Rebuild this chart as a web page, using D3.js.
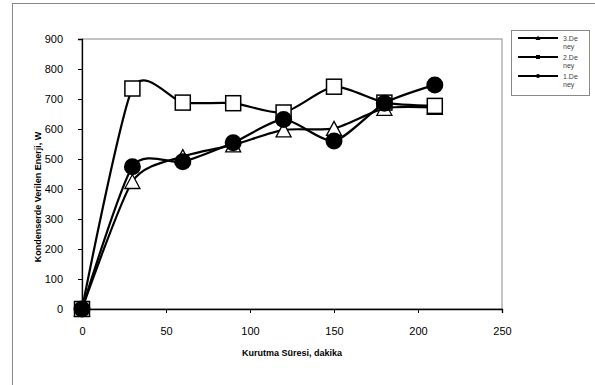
<!DOCTYPE html>
<html><head><meta charset="utf-8">
<script src="https://cdn.jsdelivr.net/npm/d3@7"></script>
<style>body{margin:0;background:#fff;}svg{display:block;font-family:"Liberation Sans",Arial,sans-serif;}</style>
</head><body>
<svg id="c" width="595" height="385"></svg>
<script>
const times = [0, 30, 60, 90, 120, 150, 180, 210];
const deney3 = [0, 425, 508, 547, 597, 602, 669, 672];   // triangles
const deney2 = [0, 735, 688, 686, 655, 741, 688, 677];   // squares
const deney1 = [0, 474, 491, 554, 632, 560, 686, 747];   // circles
const yTicks = [0, 100, 200, 300, 400, 500, 600, 700, 800, 900];
const xTicks = [0, 50, 100, 150, 200, 250];
const legendLabels = ["3.De", "2.De", "1.De"];

const svg = d3.select("#c");
// outer frame
svg.append("rect").attr("x", 12.5).attr("y", 3.5).attr("width", 600).attr("height", 400)
  .attr("fill", "none").attr("stroke", "#888").attr("stroke-width", 1);

const L = 82, R = 502, T = 39, B = 309;
const x = d3.scaleLinear().domain([0, 250]).range([L, R]);
const y = d3.scaleLinear().domain([0, 900]).range([B, T]);

// plot area border (grey)
svg.append("rect").attr("x", L).attr("y", T).attr("width", R - L).attr("height", B - T)
  .attr("fill", "none").attr("stroke", "#888").attr("stroke-width", 1);

const xAxis = svg.append("g").attr("transform", `translate(0,${B})`)
  .call(d3.axisBottom(x).tickValues(xTicks).tickSize(4).tickPadding(14));
const yAxis = svg.append("g").attr("transform", `translate(${L},0)`)
  .call(d3.axisLeft(y).tickValues(yTicks).tickSize(4).tickPadding(15));
[xAxis, yAxis].forEach(a => {
  a.select(".domain").attr("stroke", "#000").attr("stroke-width", 1.3);
  a.selectAll(".tick line").attr("stroke", "#000");
  a.selectAll(".tick text").attr("font-size", 11).attr("fill", "#000")
    .attr("font-family", "Liberation Sans, Arial, sans-serif");
});

svg.append("text").attr("x", 292).attr("y", 356).attr("text-anchor", "middle")
  .attr("font-size", 9).attr("font-weight", "bold").text("Kurutma Süresi, dakika");
svg.append("text").attr("transform", "translate(41,197) rotate(-90)").attr("text-anchor", "middle")
  .attr("font-size", 9).attr("font-weight", "bold").text("Kondenserde Verilen Enerji, W");

const line = d3.line().x(d => x(d[0])).y(d => y(d[1])).curve(d3.curveCardinal.tension(0.3));
const series = [
  {vals: deney3, shape: "tri"},
  {vals: deney2, shape: "sq"},
  {vals: deney1, shape: "circ"}
];
function marker(g, shape, cx, cy, s) {
  if (shape === "sq") {
    g.append("rect").attr("x", cx - s / 2).attr("y", cy - s / 2).attr("width", s).attr("height", s)
      .attr("fill", "#fff").attr("stroke", "#000").attr("stroke-width", 1.5);
  } else if (shape === "circ") {
    g.append("circle").attr("cx", cx).attr("cy", cy).attr("r", s / 2).attr("fill", "#000");
  } else {
    const h = s * 0.93;
    g.append("path").attr("d", `M${cx},${cy - h / 2}L${cx + s / 2},${cy + h / 2}L${cx - s / 2},${cy + h / 2}Z`)
      .attr("fill", "#fff").attr("stroke", "#000").attr("stroke-width", 1.3);
  }
}
series.forEach(s => {
  const g = svg.append("g");
  const pts = times.map((t, i) => [t, s.vals[i]]);
  g.append("path").attr("d", line(pts)).attr("fill", "none").attr("stroke", "#000").attr("stroke-width", 2.2);
  pts.forEach(p => marker(g, s.shape, x(p[0]), y(p[1]), s.shape === "circ" ? 17 : 15));
});

// legend
const lg = svg.append("g");
lg.append("rect").attr("x", 511.5).attr("y", 30.5).attr("width", 78).attr("height", 65)
  .attr("fill", "#fff").attr("stroke", "#888");
legendLabels.forEach((lab, i) => {
  const yy = 38 + i * 19;
  lg.append("line").attr("x1", 518).attr("x2", 558).attr("y1", yy).attr("y2", yy)
    .attr("stroke", "#000").attr("stroke-width", 2.2);
  const sh = series[i].shape;
  if (sh === "sq") lg.append("rect").attr("x", 536).attr("y", yy - 2).attr("width", 4).attr("height", 4).attr("fill", "#000");
  else if (sh === "circ") lg.append("circle").attr("cx", 538).attr("cy", yy).attr("r", 2).attr("fill", "#000");
  else lg.append("path").attr("d", `M538,${yy - 2.5}L540.5,${yy + 2}L535.5,${yy + 2}Z`).attr("fill", "#000");
  lg.append("text").attr("x", 563).attr("y", yy + 2.5).attr("font-size", 7).attr("fill", "#444").text(lab);
  lg.append("text").attr("x", 563).attr("y", yy + 11).attr("font-size", 7).attr("fill", "#444").text("ney");
});
</script>
</body></html>
